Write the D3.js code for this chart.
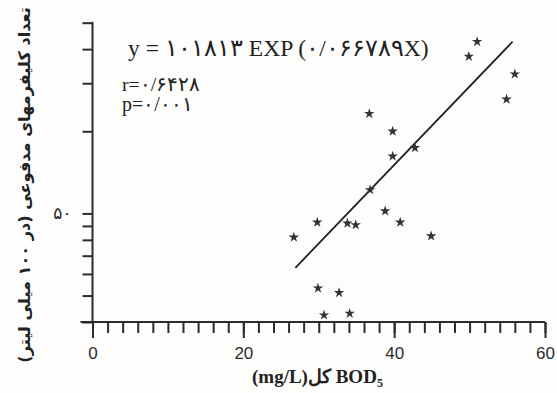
<!DOCTYPE html>
<html>
<head>
<meta charset="utf-8">
<script src="https://cdn.jsdelivr.net/npm/d3@7"></script>
<style>
  body { margin: 0; background: #fdfdfc; }
  svg { display: block; }
  .axis path, .axis line { stroke: #2b2b2b; stroke-width: 2px; }
  .axis text { fill: #2b2b2b; }
</style>
</head>
<body>
<svg id="chart"></svg>
<script>
// BOD5 (mg/L) vs fecal coliforms (per 100 ml)
const bodX = [51.0, 49.9, 56.0, 54.9, 36.7, 39.8, 42.75, 39.8, 36.8, 38.8,
              40.8, 44.9, 29.8, 33.8, 34.9, 26.7, 29.9, 32.7, 30.7, 34.1];
const coliY = [213, 188, 162, 131, 116, 100, 87, 81, 61, 51,
               46.4, 41.3, 46.4, 46, 45.4, 40.9, 26.6, 25.6, 21.2, 21.5];
// ends of the fitted exponential line
const fitX = [26.9, 55.7];
const fitY = [31.6, 213];

const xMajor = [0, 20, 40, 60];
const xMinor = d3.range(0, 61, 2);
const yTicks = [20, 25, 30, 35, 40, 45, 50, 100, 150, 200, 250];
const yLabels = {50: "۵۰"};

const eqText = "y = ۱۰۱۸۱۳ EXP (۰/۰۶۶۷۸۹X)";
const rText = "r=۰/۶۴۲۸";
const pText = "p=۰/۰۰۱";
const yTitle = "تعداد کلیفرمهای مدفوعی (در ۱۰۰ میلی لیتر)";

const width = 557, height = 393;
const svg = d3.select("#chart").attr("width", width).attr("height", height);

const x = d3.scaleLinear().domain([0, 60]).range([92.5, 545]);
const y = d3.scaleLog().domain([20, 250]).range([322, 22.7]);

// y axis
const yAxis = svg.append("g").attr("class", "axis")
  .attr("transform", `translate(${x(0)},0)`)
  .call(d3.axisLeft(y).tickValues(yTicks).tickSize(10).tickSizeOuter(0)
    .tickPadding(11).tickFormat(d => yLabels[d] || ""));
yAxis.selectAll("text").attr("font-family", "DejaVu Sans").attr("font-size", 17);
yAxis.select(".domain").attr("d", `M0,${y(250) - 1}V${y(20)}`);

// x axis: minor then major ticks
const xMin = svg.append("g").attr("class", "axis")
  .attr("transform", `translate(0,${y(20)})`)
  .call(d3.axisBottom(x).tickValues(xMinor).tickSize(11).tickSizeOuter(0).tickFormat(""));
xMin.select(".domain").attr("d", `M${x(0) - 12},0H${x(60)}`);

const xMaj = svg.append("g").attr("class", "axis")
  .attr("transform", `translate(0,${y(20)})`)
  .call(d3.axisBottom(x).tickValues(xMajor).tickSize(16).tickSizeOuter(0).tickPadding(9));
xMaj.select(".domain").remove();
xMaj.selectAll("text").attr("font-family", "Liberation Sans").attr("font-size", 17);

// fitted line
svg.append("line")
  .attr("x1", x(fitX[0])).attr("y1", y(fitY[0]))
  .attr("x2", x(fitX[1])).attr("y2", y(fitY[1]))
  .attr("stroke", "#222").attr("stroke-width", 1.8);

// points
svg.selectAll(".pt")
  .data(d3.zip(bodX, coliY))
  .join("path")
  .attr("class", "pt")
  .attr("transform", d => `translate(${x(d[0])},${y(d[1])})`)
  .attr("d", d3.symbol(d3.symbolStar, 34))
  .attr("fill", "#333");

// fit a text element to a given width
function fitWidth(sel, w) {
  const len = sel.node().getComputedTextLength();
  const fs = parseFloat(sel.attr("font-size"));
  sel.attr("font-size", fs * w / len);
}

const eq = svg.append("text")
  .attr("x", 128).attr("y", 56)
  .attr("font-family", "Liberation Serif").attr("font-size", 22)
  .attr("fill", "#222").text(eqText);
fitWidth(eq, 299);

const rt = svg.append("text").attr("x", 122).attr("y", 91)
  .attr("font-family", "Liberation Serif").attr("font-size", 17)
  .attr("fill", "#222").text(rText);
fitWidth(rt, 76);
const pt = svg.append("text").attr("x", 122).attr("y", 111)
  .attr("font-family", "Liberation Serif").attr("font-size", 17)
  .attr("fill", "#222").text(pText);
fitWidth(pt, 69);

// x title
const xt = svg.append("text")
  .attr("x", 252).attr("y", 383)
  .attr("font-family", "Liberation Serif").attr("font-weight", "bold")
  .attr("font-size", 19).attr("fill", "#222");
xt.append("tspan").text("(mg/L)کل BOD");
xt.append("tspan").attr("font-size", 12).attr("dy", 4).text("5");

// y title
const yt = svg.append("text")
  .attr("transform", "translate(30,185) rotate(-90)")
  .attr("text-anchor", "middle")
  .attr("font-family", "DejaVu Sans").attr("font-weight", "bold")
  .attr("font-size", 18).attr("fill", "#222")
  .text(yTitle);
fitWidth(yt, 356);
</script>
</body>
</html>
